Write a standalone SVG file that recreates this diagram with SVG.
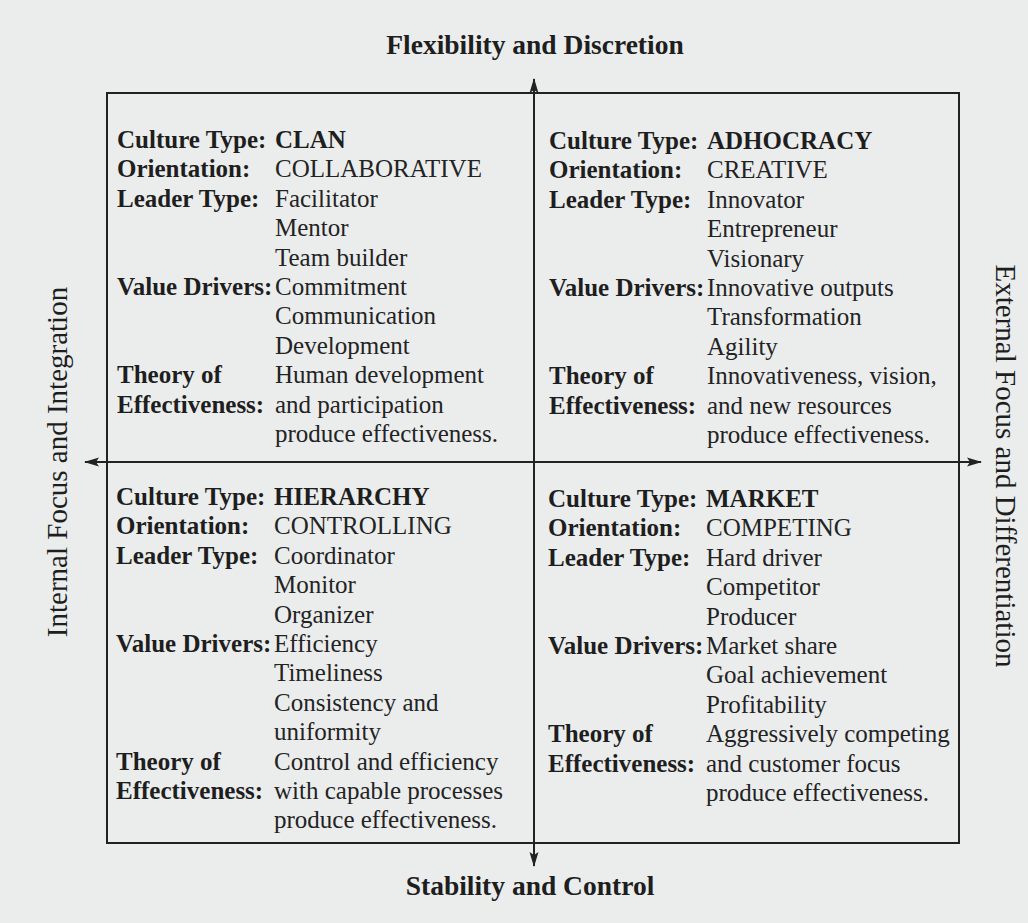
<svg xmlns="http://www.w3.org/2000/svg" width="1028" height="923" viewBox="0 0 1028 923">
<defs>
<style>
.lbl{font-family:"Liberation Serif","Times New Roman",serif;font-size:25px;font-weight:bold;fill:#1e1e1e}
.val{font-family:"Liberation Serif","Times New Roman",serif;font-size:25px;fill:#232323}
.name{font-family:"Liberation Serif","Times New Roman",serif;font-size:25px;font-weight:bold;fill:#1e1e1e}
.title{font-family:"Liberation Serif","Times New Roman",serif;font-size:27.5px;font-weight:bold;fill:#1e1e1e;text-anchor:middle}
.side{font-family:"Liberation Serif","Times New Roman",serif;font-size:29px;fill:#1e1e1e;text-anchor:middle}
.line{stroke:#222;stroke-width:2;fill:none}
</style>
<marker id="arr" markerWidth="15" markerHeight="10" refX="14" refY="5" orient="auto-start-reverse" markerUnits="userSpaceOnUse">
<path d="M0,0.5 L15,5 L0,9.5 L3,5 z" fill="#222"/>
</marker>
</defs>
<rect x="0" y="0" width="1028" height="923" fill="#ebeded"/>

<g id="frame">
<rect class="line" x="107" y="93" width="852" height="750"/>
</g>

<g id="connectors">
<line class="line" x1="534" y1="79" x2="534" y2="866" marker-start="url(#arr)" marker-end="url(#arr)"/>
<line class="line" x1="85" y1="462" x2="981" y2="462" marker-start="url(#arr)" marker-end="url(#arr)"/>
</g>

<g id="axis-top"><text class="title" x="535" y="54">Flexibility and Discretion</text></g>
<g id="axis-bottom"><text class="title" x="530" y="895">Stability and Control</text></g>
<g id="axis-left"><text class="side" transform="translate(67,462) rotate(-90)">Internal Focus and Integration</text></g>
<g id="axis-right"><text class="side" transform="translate(996,466) rotate(90)">External Focus and Differentiation</text></g>

<g id="clan">
<text class="lbl" x="117" y="148">Culture Type:</text><text class="name" x="275" y="148">CLAN</text>
<text class="lbl" x="117" y="177.4">Orientation:</text><text class="val" x="275" y="177.4">COLLABORATIVE</text>
<text class="lbl" x="117" y="206.8">Leader Type:</text><text class="val" x="275" y="206.8">Facilitator</text>
<text class="val" x="275" y="236.2">Mentor</text>
<text class="val" x="275" y="265.6">Team builder</text>
<text class="lbl" x="117" y="295">Value Drivers:</text><text class="val" x="275" y="295">Commitment</text>
<text class="val" x="275" y="324.4">Communication</text>
<text class="val" x="275" y="353.8">Development</text>
<text class="lbl" x="117" y="383.2">Theory of</text><text class="val" x="275" y="383.2">Human development</text>
<text class="lbl" x="117" y="412.6">Effectiveness:</text><text class="val" x="275" y="412.6">and participation</text>
<text class="val" x="275" y="442">produce effectiveness.</text>
</g>

<g id="adhocracy">
<text class="lbl" x="549" y="149">Culture Type:</text><text class="name" x="707" y="149">ADHOCRACY</text>
<text class="lbl" x="549" y="178.4">Orientation:</text><text class="val" x="707" y="178.4">CREATIVE</text>
<text class="lbl" x="549" y="207.8">Leader Type:</text><text class="val" x="707" y="207.8">Innovator</text>
<text class="val" x="707" y="237.2">Entrepreneur</text>
<text class="val" x="707" y="266.6">Visionary</text>
<text class="lbl" x="549" y="296">Value Drivers:</text><text class="val" x="707" y="296">Innovative outputs</text>
<text class="val" x="707" y="325.4">Transformation</text>
<text class="val" x="707" y="354.8">Agility</text>
<text class="lbl" x="549" y="384.2">Theory of</text><text class="val" x="707" y="384.2">Innovativeness, vision,</text>
<text class="lbl" x="549" y="413.6">Effectiveness:</text><text class="val" x="707" y="413.6">and new resources</text>
<text class="val" x="707" y="443">produce effectiveness.</text>
</g>

<g id="hierarchy">
<text class="lbl" x="116" y="505">Culture Type:</text><text class="name" x="274" y="505">HIERARCHY</text>
<text class="lbl" x="116" y="534.4">Orientation:</text><text class="val" x="274" y="534.4">CONTROLLING</text>
<text class="lbl" x="116" y="563.8">Leader Type:</text><text class="val" x="274" y="563.8">Coordinator</text>
<text class="val" x="274" y="593.2">Monitor</text>
<text class="val" x="274" y="622.6">Organizer</text>
<text class="lbl" x="116" y="652">Value Drivers:</text><text class="val" x="274" y="652">Efficiency</text>
<text class="val" x="274" y="681.4">Timeliness</text>
<text class="val" x="274" y="710.8">Consistency and</text>
<text class="val" x="274" y="740.2">uniformity</text>
<text class="lbl" x="116" y="769.6">Theory of</text><text class="val" x="274" y="769.6">Control and efficiency</text>
<text class="lbl" x="116" y="799">Effectiveness:</text><text class="val" x="274" y="799">with capable processes</text>
<text class="val" x="274" y="828.4">produce effectiveness.</text>
</g>

<g id="market">
<text class="lbl" x="548" y="507">Culture Type:</text><text class="name" x="706" y="507">MARKET</text>
<text class="lbl" x="548" y="536.4">Orientation:</text><text class="val" x="706" y="536.4">COMPETING</text>
<text class="lbl" x="548" y="565.8">Leader Type:</text><text class="val" x="706" y="565.8">Hard driver</text>
<text class="val" x="706" y="595.2">Competitor</text>
<text class="val" x="706" y="624.6">Producer</text>
<text class="lbl" x="548" y="654">Value Drivers:</text><text class="val" x="706" y="654">Market share</text>
<text class="val" x="706" y="683.4">Goal achievement</text>
<text class="val" x="706" y="712.8">Profitability</text>
<text class="lbl" x="548" y="742.2">Theory of</text><text class="val" x="706" y="742.2">Aggressively competing</text>
<text class="lbl" x="548" y="771.6">Effectiveness:</text><text class="val" x="706" y="771.6">and customer focus</text>
<text class="val" x="706" y="801">produce effectiveness.</text>
</g>
</svg>
